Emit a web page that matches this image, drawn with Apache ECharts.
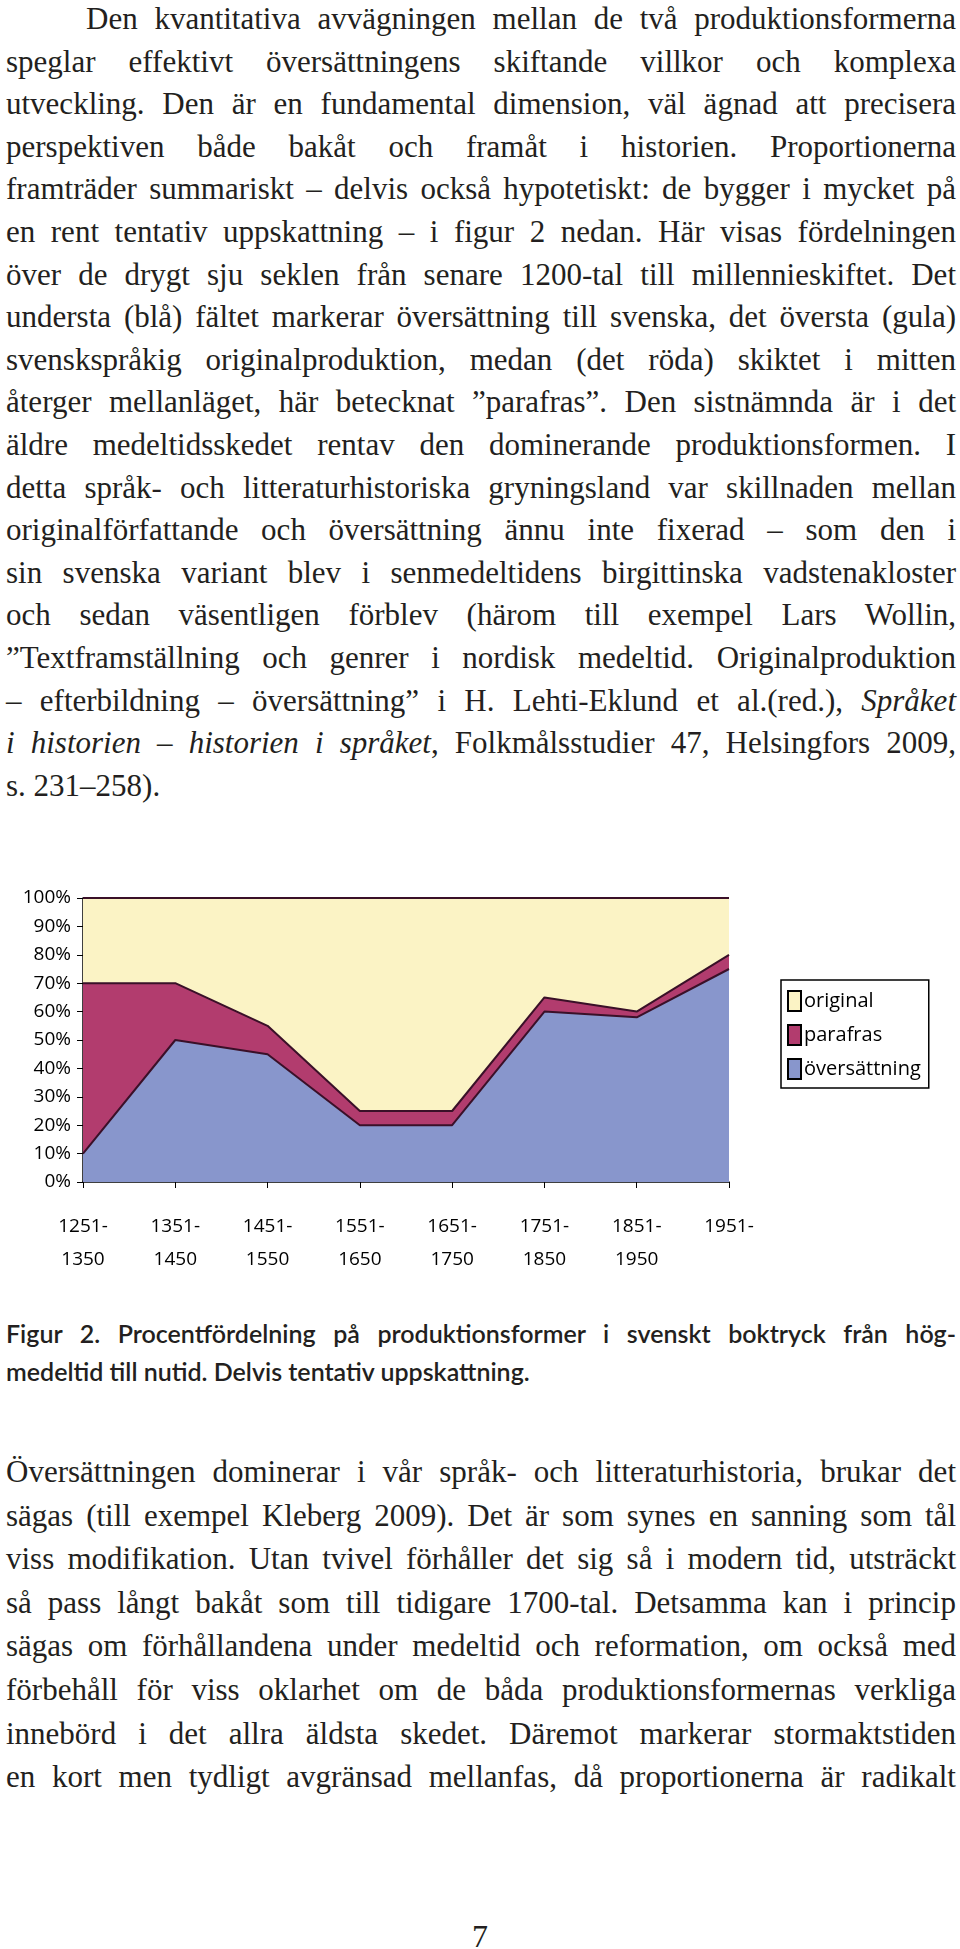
<!DOCTYPE html>
<html><head><meta charset="utf-8">
<script src="https://cdn.jsdelivr.net/npm/echarts@6/dist/echarts.min.js"></script>
<style>
body{margin:0;width:960px;height:1949px;background:#fff;position:relative;overflow:hidden}
.txt{position:absolute;left:6px;width:950px;font-family:"Liberation Serif",serif;font-size:31px;line-height:42.6px;color:#231f20}
.txt div{white-space:nowrap;text-align:justify;text-align-last:justify}
.txt div.last{text-align-last:left}
.cap{position:absolute;left:6px;width:950px;font-family:Lato,sans-serif;font-weight:600;font-size:25px;line-height:38px;color:#231f20}
.cap div{white-space:nowrap;text-align:justify;text-align-last:justify}
.cap div.last{text-align-last:left}
#chart{position:absolute;left:0;top:860px;width:960px;height:440px}
</style></head><body>
<div class="txt" style="top:-2px">
<div style="padding-left:80px">Den kvantitativa avvägningen mellan de två produktionsformerna</div>
<div>speglar effektivt översättningens skiftande villkor och komplexa</div>
<div>utveckling. Den är en fundamental dimension, väl ägnad att precisera</div>
<div>perspektiven både bakåt och framåt i historien. Proportionerna</div>
<div>framträder summariskt – delvis också hypotetiskt: de bygger i mycket på</div>
<div>en rent tentativ uppskattning – i figur 2 nedan. Här visas fördelningen</div>
<div>över de drygt sju seklen från senare 1200-tal till millennieskiftet. Det</div>
<div>understa (blå) fältet markerar översättning till svenska, det översta (gula)</div>
<div>svenskspråkig originalproduktion, medan (det röda) skiktet i mitten</div>
<div>återger mellanläget, här betecknat ”parafras”. Den sistnämnda är i det</div>
<div>äldre medeltidsskedet rentav den dominerande produktionsformen. I</div>
<div>detta språk- och litteraturhistoriska gryningsland var skillnaden mellan</div>
<div>originalförfattande och översättning ännu inte fixerad – som den i</div>
<div>sin svenska variant blev i senmedeltidens birgittinska vadstenakloster</div>
<div>och sedan väsentligen förblev (härom till exempel Lars Wollin,</div>
<div>”Textframställning och genrer i nordisk medeltid. Originalproduktion</div>
<div>– efterbildning – översättning” i H. Lehti-Eklund et al.(red.), <i>Språket</i></div>
<div><i>i historien – historien i språket</i>, Folkmålsstudier 47, Helsingfors 2009,</div>
<div class="last">s. 231–258).</div>
</div>
<div id="chart"></div>
<div class="cap" style="top:1314px">
<div>Figur 2. Procentfördelning på produktionsformer i svenskt boktryck från hög-</div>
<div class="last">medeltid till nutid. Delvis tentativ uppskattning.</div>
</div>
<div class="txt" style="top:1450px;line-height:43.6px">
<div>Översättningen dominerar i vår språk- och litteraturhistoria, brukar det</div>
<div>sägas (till exempel Kleberg 2009). Det är som synes en sanning som tål</div>
<div>viss modifikation. Utan tvivel förhåller det sig så i modern tid, utsträckt</div>
<div>så pass långt bakåt som till tidigare 1700-tal. Detsamma kan i princip</div>
<div>sägas om förhållandena under medeltid och reformation, om också med</div>
<div>förbehåll för viss oklarhet om de båda produktionsformernas verkliga</div>
<div>innebörd i det allra äldsta skedet. Däremot markerar stormaktstiden</div>
<div>en kort men tydligt avgränsad mellanfas, då proportionerna är radikalt</div>
</div>
<div style="position:absolute;left:0;width:960px;top:1918px;text-align:center;font-family:'Liberation Serif',serif;font-size:32px;color:#231f20">7</div>
<script>
document.querySelectorAll('.txt div,.cap div').forEach(function(d){
  var fs=parseFloat(getComputedStyle(d).fontSize);
  while(d.scrollWidth>d.clientWidth+1&&fs>14){fs-=0.5;d.style.fontSize=fs+'px';}
});
const categories=['1251-\n1350','1351-\n1450','1451-\n1550','1551-\n1650','1651-\n1750','1751-\n1850','1851-\n1950','1951-'];
const oversattning=[10,50,45,20,20,60,58,75];
const parafras=[60,20,10,5,5,5,2,5];
const original=[30,30,45,75,75,35,40,20];
const yTicks=[0,10,20,30,40,50,60,70,80,90,100];
const chart=echarts.init(document.getElementById('chart'));
const edge='#3a1028';
function s(name,data,color){return {name:name,type:'line',stack:'t',data:data,symbol:'none',
  lineStyle:{color:edge,width:2},areaStyle:{color:color,opacity:1},itemStyle:{color:color,borderColor:'#000',borderWidth:1.5}};}
chart.setOption({
  animation:false,
  grid:{left:83,right:231,top:38,height:284},
  legend:{orient:'vertical',left:781,top:120,width:173,padding:[10,8,8,6],itemGap:12,
    borderColor:'#000',borderWidth:1.5,itemWidth:13,itemHeight:20,icon:'rect',
    data:['original','parafras','översättning'],
    textStyle:{fontFamily:'Open Sans',fontSize:20,color:'#000',padding:[0,0,0,-2]}},
  xAxis:{type:'category',data:categories,boundaryGap:false,
    axisLine:{lineStyle:{color:'#000',width:1.5}},axisTick:{show:true,length:6,lineStyle:{color:'#000'}},
    axisLabel:{interval:0,margin:28,fontFamily:'Open Sans',fontSize:19,color:'#000',lineHeight:33}},
  yAxis:{type:'value',min:0,max:100,interval:10,
    axisLine:{show:true,lineStyle:{color:'#000',width:1.5}},axisTick:{show:true,length:6,lineStyle:{color:'#000'}},
    splitLine:{show:false},
    axisLabel:{margin:12,fontFamily:'Open Sans',fontSize:19,color:'#000',
      formatter:function(v){return yTicks.indexOf(v)>=0?v+'%':'';}}},
  series:[s('översättning',oversattning,'#8896cc'),s('parafras',parafras,'#b23c6e'),s('original',original,'#fbf3c5')]
});
</script>
</body></html>
